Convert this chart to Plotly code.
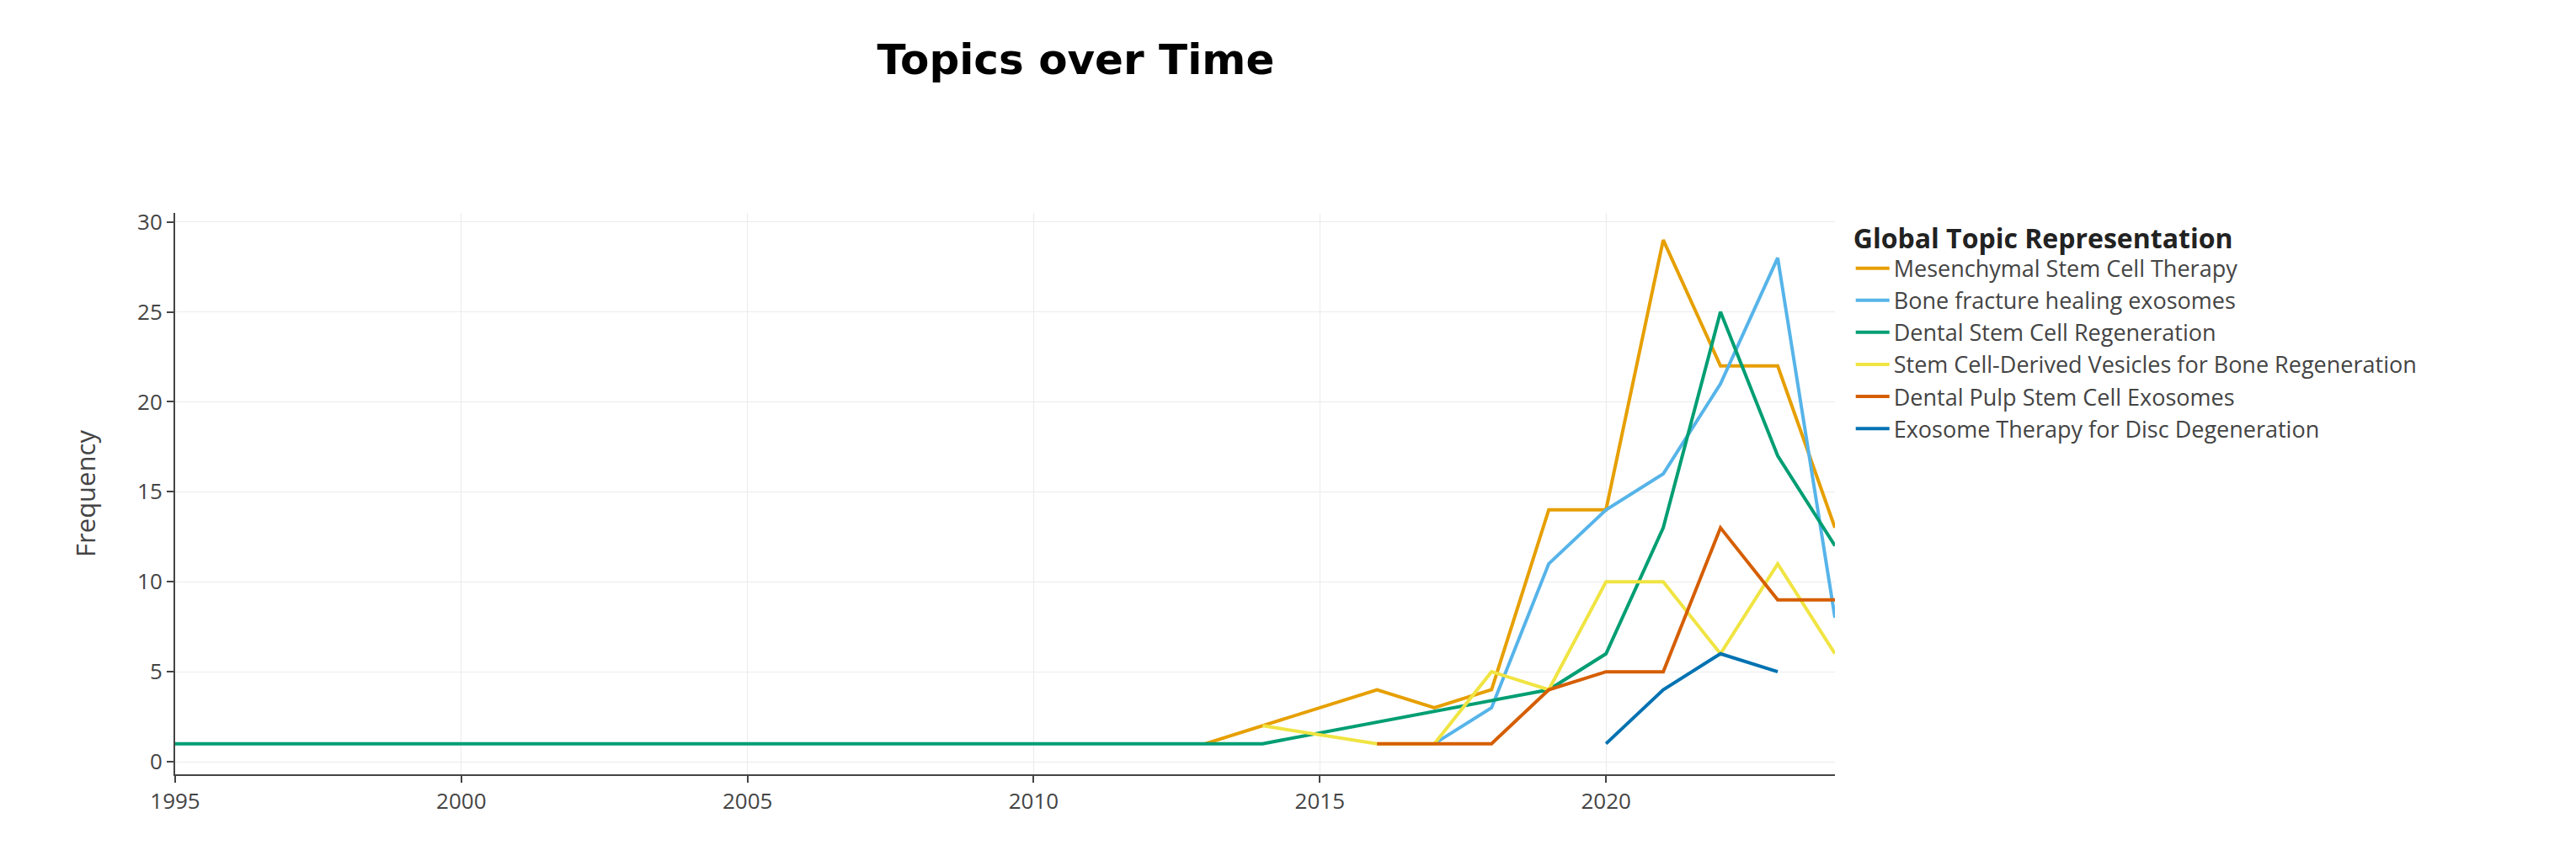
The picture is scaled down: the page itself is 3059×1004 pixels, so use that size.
import plotly.graph_objects as go

names = ["Mesenchymal Stem Cell Therapy", "Bone fracture healing exosomes", "Dental Stem Cell Regeneration",
         "Stem Cell-Derived Vesicles for Bone Regeneration", "Dental Pulp Stem Cell Exosomes",
         "Exosome Therapy for Disc Degeneration"]
colors = ["#E69F00", "#56B4E9", "#009E73", "#F0E442", "#D55E00", "#0072B2"]

msc_x = [2013, 2014, 2016, 2017, 2018, 2019, 2020, 2021, 2022, 2023, 2024]
msc_y = [1, 2, 4, 3, 4, 14, 14, 29, 22, 22, 13]
bone_x = [2017, 2018, 2019, 2020, 2021, 2022, 2023, 2024]
bone_y = [1, 3, 11, 14, 16, 21, 28, 8]
dental_x = list(range(1995, 2015)) + [2019, 2020, 2021, 2022, 2023, 2024]
dental_y = [1] * 20 + [4, 6, 13, 25, 17, 12]
ves_x = [2014, 2016, 2017, 2018, 2019, 2020, 2021, 2022, 2023, 2024]
ves_y = [2, 1, 1, 5, 4, 10, 10, 6, 11, 6]
pulp_x = [2016, 2017, 2018, 2019, 2020, 2021, 2022, 2023, 2024]
pulp_y = [1, 1, 1, 4, 5, 5, 13, 9, 9]
disc_x = [2020, 2021, 2022, 2023]
disc_y = [1, 4, 6, 5]

series = [(msc_x, msc_y), (bone_x, bone_y), (dental_x, dental_y), (ves_x, ves_y), (pulp_x, pulp_y), (disc_x, disc_y)]

fig = go.Figure()
for (x, y), n, c in zip(series, names, colors):
    fig.add_trace(go.Scatter(x=x, y=y, name=n, mode="lines", line=dict(color=c, width=4)))

fig.update_layout(
    width=3059, height=1004,
    paper_bgcolor="white", plot_bgcolor="white",
    font=dict(family="Open Sans, DejaVu Sans", size=26, color="#444"),
    title=dict(text="<b>Topics over Time</b>", x=0.415, xanchor="center", y=0.955,
               font=dict(size=50, color="black", family="DejaVu Sans, Verdana")),
    margin=dict(l=200, r=888, t=245, b=92),
    legend=dict(title=dict(text="<b>Global Topic Representation</b>", font=dict(size=32, color="#222")),
                x=1.01, y=1.0, xanchor="left", yanchor="top", font=dict(size=27, color="#444"),
                tracegroupgap=0, itemwidth=40),
    xaxis=dict(range=[1995, 2024], showgrid=True, gridcolor="#ebebeb", showline=True, linecolor="#444",
               linewidth=2, ticks="outside", tickcolor="#444", ticklen=8, tickwidth=2, dtick=5, zeroline=False),
    yaxis=dict(range=[-0.7, 30.5], showgrid=True, gridcolor="#ebebeb", showline=True, linecolor="#444",
               linewidth=2, ticks="outside", tickcolor="#444", ticklen=8, tickwidth=2, dtick=5, zeroline=False,
               title=dict(text="Frequency", standoff=40)),
)
fig.write_html("out.html")
